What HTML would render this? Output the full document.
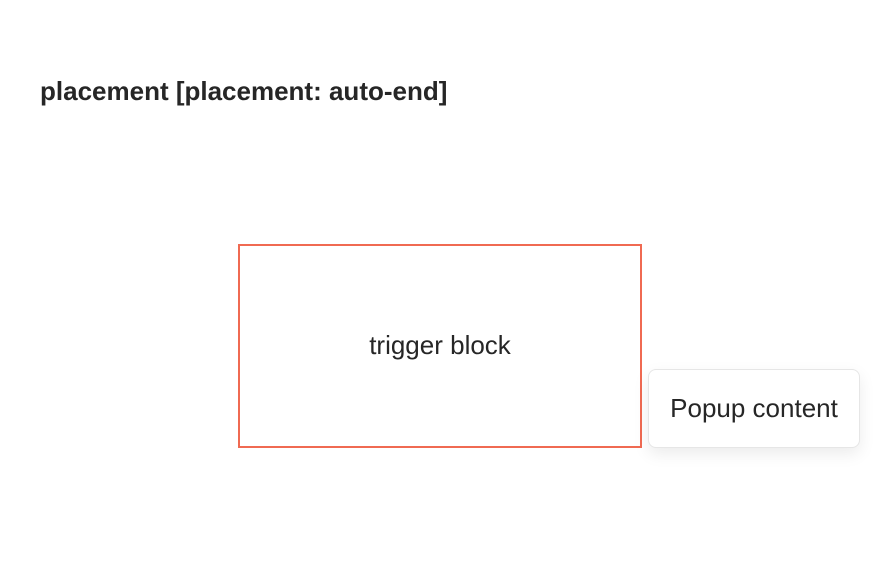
<!DOCTYPE html>
<html><head><style>
body{margin:0;width:880px;height:586px;background:#fff;font-family:"Liberation Sans",sans-serif;color:#262626;position:relative;overflow:hidden}
.t{position:absolute;left:40px;top:76px;font-size:26px;font-weight:bold}
.trig{position:absolute;left:238px;top:244px;width:400px;height:198px;padding-bottom:2px;border:2px solid #f06a52;display:flex;align-items:center;justify-content:center;font-size:26px}
.pop{position:absolute;left:648px;top:369px;width:210px;height:76px;padding-bottom:1px;border:1px solid #e6e6e6;border-radius:8px;background:#fff;box-shadow:0 6px 16px rgba(0,0,0,0.08);display:flex;align-items:center;justify-content:center;font-size:26px}
</style></head><body>
<div class="t">placement [placement: auto-end]</div>
<div class="trig">trigger block</div>
<div class="pop">Popup content</div>
</body></html>
